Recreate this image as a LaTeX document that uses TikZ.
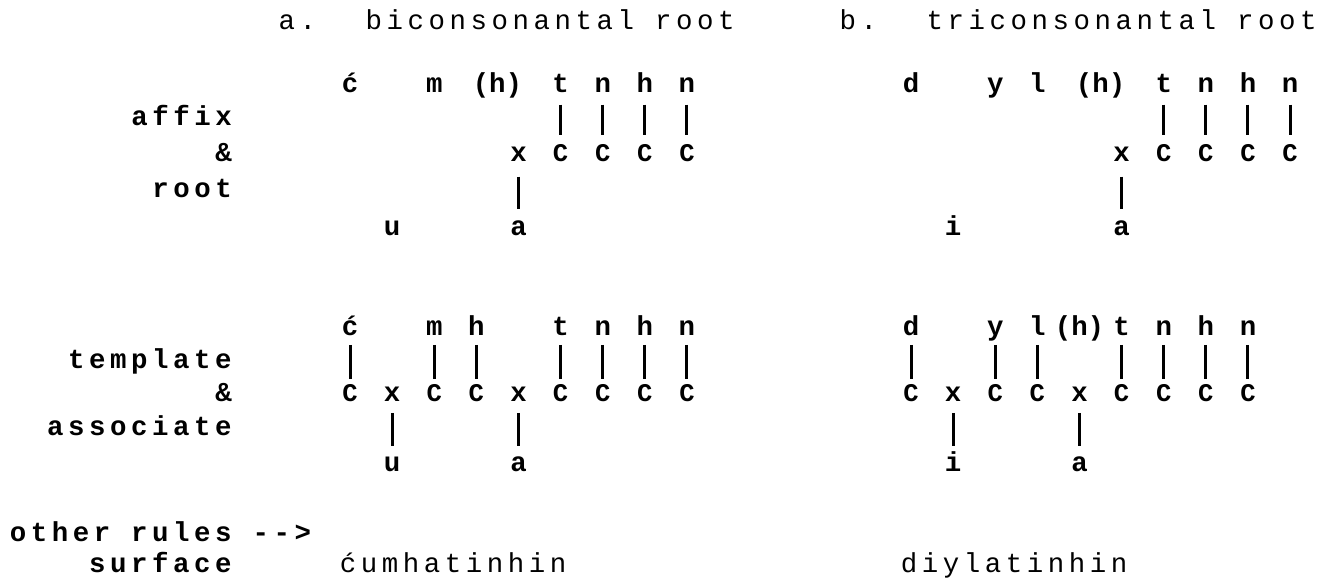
\documentclass[tikz,border=0pt]{standalone}
\usepackage{fontspec}
\newfontfamily\tw[LetterSpace=16.6]{Liberation Mono}
\newfontfamily\twc{Liberation Mono}

\tikzset{
  glyph/.style={font=\twc\bfseries\fontsize{15.6}{18}\selectfont,
      inner sep=0pt, text height=0.5em, text depth=0pt},
  slot/.style={glyph, font=\twc\bfseries\fontsize{14.5}{17}\selectfont},
  word/.style={glyph, font=\tw\bfseries\fontsize{15.6}{18}\selectfont},
  head/.style={glyph, font=\tw\fontsize{15.6}{18}\selectfont},
  bar/.style={line width=0.06cm, shorten <=0.18cm, shorten >=0.27cm},
  downbar/.style={bar, shorten <=0.22cm, shorten >=0.32cm},
  upbar/.style={bar, shorten <=0.24cm, shorten >=0.35cm},
  lowbar/.style={bar, shorten <=0.30cm, shorten >=0.34cm}
}
\def\xa{350}
\def\xb{911}
\def\p{21.06}

\begin{document}
\begin{tikzpicture}[x=0.02cm, y=-0.02cm]
    \useasboundingbox (0,0) rectangle (1332,579);
    % headings
    \node[head] (ha) at ({\xa-\p*2.5},25) {a.};
    \node[head] (hatext) at ({\xa+\p*9.5},25) {biconsonantal root};
    \node[head] (hb) at ({\xb-\p*2.5},25) {b.};
    \node[head] (hbtext) at ({\xb+\p*10},25) {triconsonantal root};
    % row labels
    \node[word] (laffix) at ({\xa-\p*8},121) {affix};
    \node[glyph] (lamp1) at ({\xa-\p*6},157) {\&};
    \node[word] (lroot) at ({\xa-\p*7.5},193) {root};
    \node[word] (ltempl) at ({\xa-\p*9.5},364) {template};
    \node[glyph] (lamp2) at ({\xa-\p*6},397) {\&};
    \node[word] (lassoc) at ({\xa-\p*10},431) {associate};
    \node[word] (lrules) at ({\xa-\p*9},537) {other rules -->};
    \node[word] (lsurf) at ({\xa-\p*9},568) {surface};

    % a. affix & root
    \node[glyph] (a1c) at ({\xa},88) {ć};
    \node[glyph] (a1m) at ({\xa+\p*4},88) {m};
    \node[glyph] (a1h) at ({\xa+\p*7},88) {(h)};
    \node[glyph] (a1t) at ({\xa+\p*10},88) {t};
    \node[glyph] (a1n) at ({\xa+\p*12},88) {n};
    \node[glyph] (a1h2) at ({\xa+\p*14},88) {h};
    \node[glyph] (a1n2) at ({\xa+\p*16},88) {n};
    \node[glyph] (a1x) at ({\xa+\p*8},157) {x};
    \node[slot] (a1C1) at ({\xa+\p*10},157) {C};
    \node[slot] (a1C2) at ({\xa+\p*12},157) {C};
    \node[slot] (a1C3) at ({\xa+\p*14},157) {C};
    \node[slot] (a1C4) at ({\xa+\p*16},157) {C};
    \node[glyph] (a1u) at ({\xa+\p*2},231) {u};
    \node[glyph] (a1a) at ({\xa+\p*8},231) {a};
    \draw[upbar] (a1t) -- (a1C1);
    \draw[upbar] (a1n) -- (a1C2);
    \draw[upbar] (a1h2) -- (a1C3);
    \draw[upbar] (a1n2) -- (a1C4);
    \draw[lowbar] (a1x) -- (a1a);

    % b. affix & root
    \node[glyph] (b1d) at ({\xb},88) {d};
    \node[glyph] (b1y) at ({\xb+\p*4},88) {y};
    \node[glyph] (b1l) at ({\xb+\p*6},88) {l};
    \node[glyph] (b1h) at ({\xb+\p*9},88) {(h)};
    \node[glyph] (b1t) at ({\xb+\p*12},88) {t};
    \node[glyph] (b1n) at ({\xb+\p*14},88) {n};
    \node[glyph] (b1h2) at ({\xb+\p*16},88) {h};
    \node[glyph] (b1n2) at ({\xb+\p*18},88) {n};
    \node[glyph] (b1x) at ({\xb+\p*10},157) {x};
    \node[slot] (b1C1) at ({\xb+\p*12},157) {C};
    \node[slot] (b1C2) at ({\xb+\p*14},157) {C};
    \node[slot] (b1C3) at ({\xb+\p*16},157) {C};
    \node[slot] (b1C4) at ({\xb+\p*18},157) {C};
    \node[glyph] (b1i) at ({\xb+\p*2},231) {i};
    \node[glyph] (b1a) at ({\xb+\p*10},231) {a};
    \draw[upbar] (b1t) -- (b1C1);
    \draw[upbar] (b1n) -- (b1C2);
    \draw[upbar] (b1h2) -- (b1C3);
    \draw[upbar] (b1n2) -- (b1C4);
    \draw[lowbar] (b1x) -- (b1a);

    % a. template & associate
    \node[glyph] (a2c) at ({\xa},331) {ć};
    \node[glyph] (a2m) at ({\xa+\p*4},331) {m};
    \node[glyph] (a2h) at ({\xa+\p*6},331) {h};
    \node[glyph] (a2t) at ({\xa+\p*10},331) {t};
    \node[glyph] (a2n) at ({\xa+\p*12},331) {n};
    \node[glyph] (a2h2) at ({\xa+\p*14},331) {h};
    \node[glyph] (a2n2) at ({\xa+\p*16},331) {n};
    \node[slot] (a2C1) at ({\xa},397) {C};
    \node[glyph] (a2x1) at ({\xa+\p*2},397) {x};
    \node[slot] (a2C2) at ({\xa+\p*4},397) {C};
    \node[slot] (a2C3) at ({\xa+\p*6},397) {C};
    \node[glyph] (a2x2) at ({\xa+\p*8},397) {x};
    \node[slot] (a2C4) at ({\xa+\p*10},397) {C};
    \node[slot] (a2C5) at ({\xa+\p*12},397) {C};
    \node[slot] (a2C6) at ({\xa+\p*14},397) {C};
    \node[slot] (a2C7) at ({\xa+\p*16},397) {C};
    \node[glyph] (a2u) at ({\xa+\p*2},467) {u};
    \node[glyph] (a2a) at ({\xa+\p*8},467) {a};
    \draw[bar] (a2c) -- (a2C1);
    \draw[bar] (a2m) -- (a2C2);
    \draw[bar] (a2h) -- (a2C3);
    \draw[bar] (a2t) -- (a2C4);
    \draw[bar] (a2n) -- (a2C5);
    \draw[bar] (a2h2) -- (a2C6);
    \draw[bar] (a2n2) -- (a2C7);
    \draw[downbar] (a2x1) -- (a2u);
    \draw[downbar] (a2x2) -- (a2a);

    % b. template & associate
    \node[glyph] (b2d) at ({\xb},331) {d};
    \node[glyph] (b2y) at ({\xb+\p*4},331) {y};
    \node[glyph] (b2l) at ({\xb+\p*6},331) {l};
    \node[glyph] (b2h) at ({\xb+\p*8},331) {(h)};
    \node[glyph] (b2t) at ({\xb+\p*10},331) {t};
    \node[glyph] (b2n) at ({\xb+\p*12},331) {n};
    \node[glyph] (b2h2) at ({\xb+\p*14},331) {h};
    \node[glyph] (b2n2) at ({\xb+\p*16},331) {n};
    \node[slot] (b2C1) at ({\xb},397) {C};
    \node[glyph] (b2x1) at ({\xb+\p*2},397) {x};
    \node[slot] (b2C2) at ({\xb+\p*4},397) {C};
    \node[slot] (b2C3) at ({\xb+\p*6},397) {C};
    \node[glyph] (b2x2) at ({\xb+\p*8},397) {x};
    \node[slot] (b2C4) at ({\xb+\p*10},397) {C};
    \node[slot] (b2C5) at ({\xb+\p*12},397) {C};
    \node[slot] (b2C6) at ({\xb+\p*14},397) {C};
    \node[slot] (b2C7) at ({\xb+\p*16},397) {C};
    \node[glyph] (b2i) at ({\xb+\p*2},467) {i};
    \node[glyph] (b2a) at ({\xb+\p*8},467) {a};
    \draw[bar] (b2d) -- (b2C1);
    \draw[bar] (b2y) -- (b2C2);
    \draw[bar] (b2l) -- (b2C3);
    \draw[bar] (b2t) -- (b2C4);
    \draw[bar] (b2n) -- (b2C5);
    \draw[bar] (b2h2) -- (b2C6);
    \draw[bar] (b2n2) -- (b2C7);
    \draw[downbar] (b2x1) -- (b2i);
    \draw[downbar] (b2x2) -- (b2a);

    % surface forms
    \node[head, anchor=west] (surfa) at ({\xa-10.5},568) {ćumhatinhin};
    \node[head, anchor=west] (surfb) at ({\xb-10.5},568) {diylatinhin};
\end{tikzpicture}
\end{document}
